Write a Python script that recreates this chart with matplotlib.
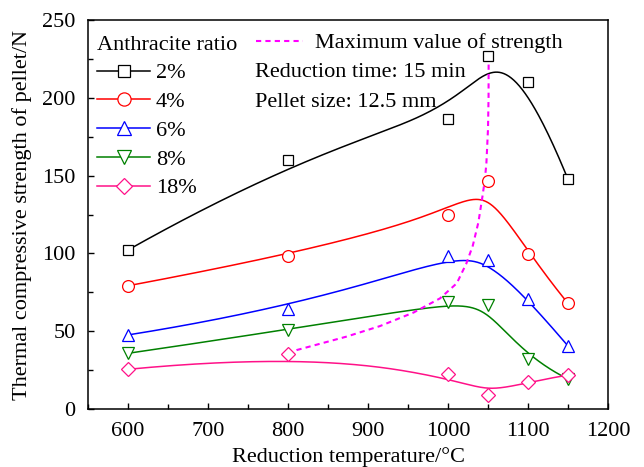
import numpy as np
import matplotlib
matplotlib.use("Agg")
import matplotlib.pyplot as plt
from matplotlib.ticker import MultipleLocator

plt.rcParams['font.family'] = ['Liberation Serif', 'DejaVu Serif']
plt.rcParams['font.size'] = 16

# reduction temperature (C)
temps = [600, 800, 1000, 1050, 1100, 1150]

# strength (N) for each anthracite ratio
s2 = [102.2, 160.0, 186.4, 227.0, 210.4, 147.6]
s4 = [79.2, 98.5, 124.7, 146.7, 99.4, 67.9]
s6 = [47.6, 64.0, 98.6, 96.0, 70.5, 40.5]
s8 = [35.8, 50.8, 68.6, 66.6, 31.9, 19.3]
s18 = [25.5, 35.3, 22.3, 9.0, 17.5, 21.8]

ratios = ['2%', '4%', '6%', '8%', '18%']
colors = ['black', '#FF0000', '#0000FF', '#008000', '#FF1188']
markers = ['s', 'o', '^', 'v', 'D']
msizes = [7.5, 8.5, 9, 9, 7.5]

# line of maximum strength
max_t = [800, 811, 873, 915, 957, 990, 1011, 1023, 1031, 1038, 1043, 1046, 1048, 1050, 1050.7, 1050.8]
max_s = [35.3, 37.9, 46.5, 53.3, 62.0, 71.1, 80.8, 93.6, 105.0, 120.0, 136.4, 147.0, 158.0, 180.0, 200.7, 226.4]


def bspline(xs, ys, n=300, k=3):
    # clamped uniform B-spline using the data points as control points
    P = np.column_stack([xs, ys])
    m = len(P)
    knots = np.concatenate([np.zeros(k), np.linspace(0, 1, m - k + 1), np.ones(k)])
    t = np.linspace(0, 1, n)
    N = np.zeros((n, len(knots) - 1))
    for i in range(len(knots) - 1):
        N[:, i] = (knots[i] <= t) & (t < knots[i + 1])
    N[t >= 1, m - 1] = 1
    for p in range(1, k + 1):
        Nn = np.zeros((n, len(knots) - 1 - p))
        for i in range(len(knots) - 1 - p):
            d1 = knots[i + p] - knots[i]
            d2 = knots[i + p + 1] - knots[i + 1]
            if d1 > 0:
                Nn[:, i] += (t - knots[i]) / d1 * N[:, i]
            if d2 > 0:
                Nn[:, i] += (knots[i + p + 1] - t) / d2 * N[:, i + 1]
        N = Nn
    c = N @ P
    return c[:, 0], c[:, 1]


fig = plt.figure(figsize=(6.44, 4.67), dpi=100)
ax = fig.add_axes([88 / 644, 1 - 409 / 467, 520 / 644, 389 / 467])

handles = []
for vals, lab, col, mk, ms in zip([s2, s4, s6, s8, s18], ratios, colors, markers, msizes):
    cx, cy = bspline(temps, vals)
    ax.plot(cx, cy, color=col, lw=1.1, zorder=2)
    ax.plot(temps, vals, ls='none', marker=mk, ms=ms, mfc='white', mec=col,
            mew=0.9, zorder=4)
    h, = ax.plot([], [], color=col, lw=1.1, marker=mk, ms=ms + 1, mfc='white',
                 mec=col, mew=0.9)
    handles.append(h)

dash, = ax.plot(max_t, max_s, color='#FF00FF', ls=(0, (2.5, 2)), lw=1.5, zorder=3)

leg1 = ax.legend(handles, ratios, title='Anthracite ratio', loc='upper left',
                 bbox_to_anchor=(0.017, 0.96), frameon=False, borderpad=0,
                 borderaxespad=0, handlelength=2.4, handletextpad=0.25,
                 labelspacing=0.37, alignment='left', fontsize=16,
                 title_fontsize=16)
ax.add_artist(leg1)
ax.legend([dash], ['Maximum value of strength'], loc='upper left',
          bbox_to_anchor=(0.323, 0.967), frameon=False, borderpad=0,
          borderaxespad=0, handlelength=2.1, handletextpad=0.55, fontsize=16)

ax.text(0.321, 0.865, 'Reduction time: 15 min', transform=ax.transAxes,
        ha='left', va='center', fontsize=16)
ax.text(0.321, 0.787, 'Pellet size: 12.5 mm', transform=ax.transAxes,
        ha='left', va='center', fontsize=16)

ax.set_xlim(550, 1200)
ax.set_ylim(0, 250)
ax.xaxis.set_major_locator(MultipleLocator(100))
ax.xaxis.set_minor_locator(MultipleLocator(50))
ax.yaxis.set_major_locator(MultipleLocator(50))
ax.yaxis.set_minor_locator(MultipleLocator(25))
ax.tick_params(which='both', direction='in', top=False, right=False,
               labelsize=16, width=1.0)
ax.tick_params(which='major', length=4.5, pad=9)
ax.tick_params(which='minor', length=3.5)
for sp in ax.spines.values():
    sp.set_linewidth(1.1)

ax.set_xlabel('Reduction temperature/°C', fontsize=16, labelpad=5)
ax.set_ylabel('Thermal compressive strength of pellet/N', fontsize=16, labelpad=7)

fig.savefig('out.png', dpi=100)
